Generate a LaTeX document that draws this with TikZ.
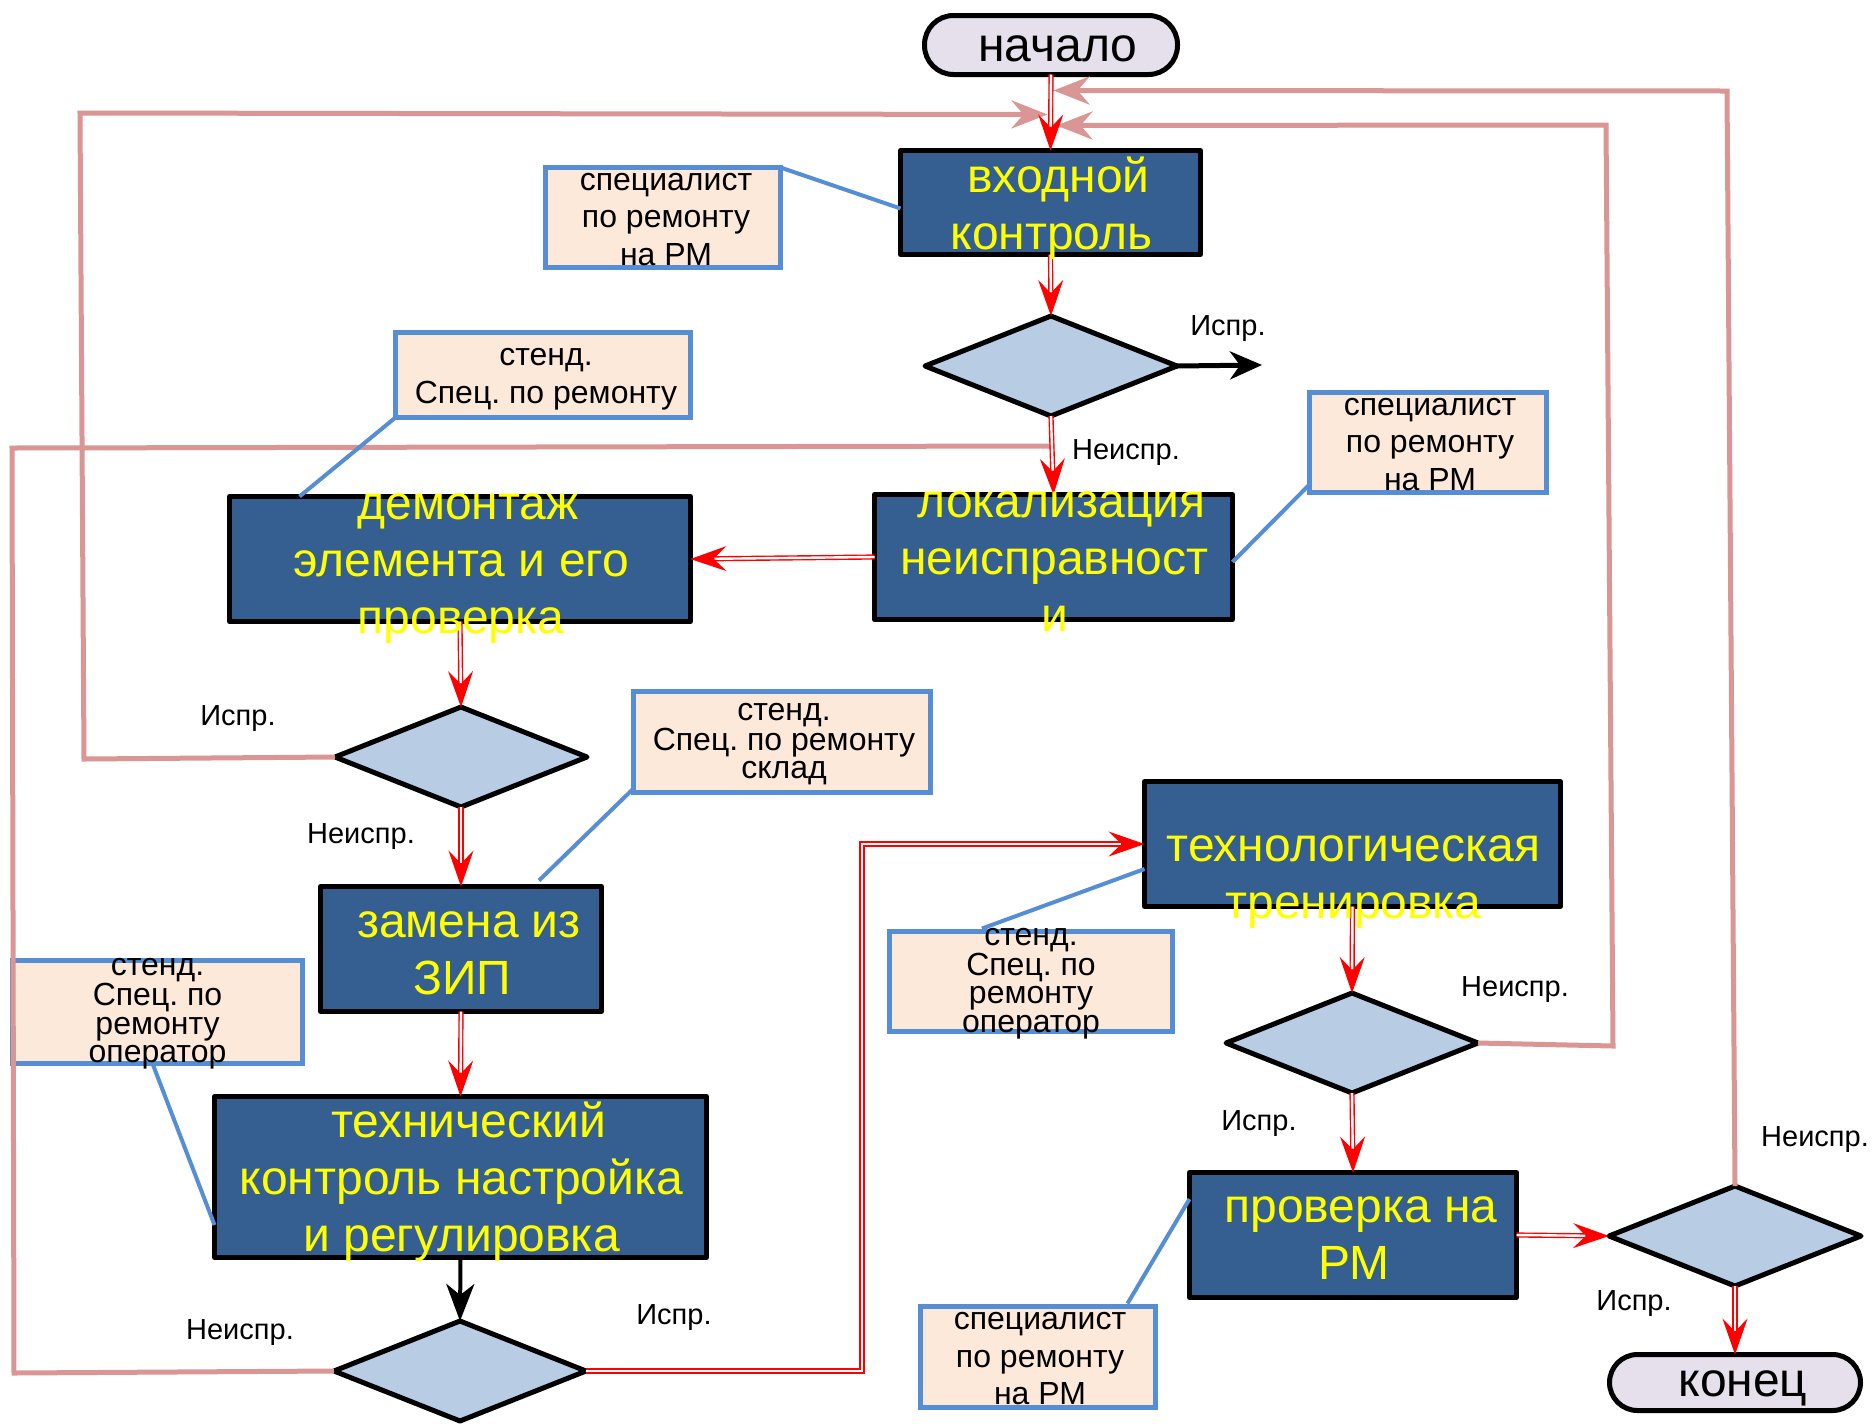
\documentclass[tikz,border=0pt]{standalone}
\usepackage{fontspec}
\setmainfont{Liberation Sans}
\usetikzlibrary{arrows.meta,shapes.geometric,calc}
\definecolor{boxblue}{RGB}{54,95,145}
\definecolor{diafill}{RGB}{184,204,228}
\definecolor{notefill}{RGB}{253,233,217}
\definecolor{noteborder}{RGB}{85,142,213}
\definecolor{termfill}{RGB}{229,224,236}
\definecolor{pinkcol}{RGB}{217,150,148}
\definecolor{textyellow}{RGB}{255,255,0}
\newcommand{\redarr}[1]{\draw[redtipline] #1; \draw[redline] #1;}
\newcommand{\fl}{\hspace*{14pt}}
\frenchspacing
\begin{document}
\begin{tikzpicture}[x=1pt,y=-1pt,
  mainbox/.style={rectangle, draw=black, line width=5pt, fill=boxblue, inner sep=0pt, outer sep=0pt, line join=round},
  maintext/.style={text=textyellow, font=\fontsize{48}{57}\selectfont, align=center, inner sep=0pt},
  decision/.style={diamond, draw=black, line width=5pt, fill=diafill, inner sep=0pt, outer sep=0pt, line join=round, minimum width=252pt, minimum height=100pt},
  term/.style={rectangle, rounded corners=29pt, draw=black, line width=5pt, fill=termfill, inner sep=0pt, outer sep=0pt},
  termtext/.style={text=black, font=\fontsize{48}{57}\selectfont, inner sep=0pt},
  note/.style={rectangle, draw=noteborder, line width=4.5pt, fill=notefill, inner sep=0pt, outer sep=0pt},
  notetext/.style={text=black, font=\fontsize{32}{37.5}\selectfont, align=center, inner sep=0pt},
  notetextt/.style={text=black, font=\fontsize{32}{28.5}\selectfont, align=center, inner sep=0pt},
  lbl/.style={text=black, font=\fontsize{29}{34}\selectfont, inner sep=0pt},
  blueline/.style={draw=noteborder, line width=4pt},
  pinkl/.style={draw=pinkcol, line width=5pt, -{Stealth[length=36pt, width=28pt, inset=12pt]}},
  pinkn/.style={draw=pinkcol, line width=5pt},
  redtipline/.style={draw=red, line width=1pt, -{Stealth[length=36pt, width=25pt, inset=13pt]}},
  redline/.style={draw=red, line width=1.4pt, double=white, double distance=2.4pt, shorten >=24pt},
  blackarr/.style={draw=black, line width=5pt, -{Stealth[length=32pt, width=28pt, inset=10pt]}}
]
\useasboundingbox[fill=white] (0,0) rectangle (1874,1425);

% terminators
\node[term, minimum width=253pt, minimum height=59pt] (st) at (1051,45) {};
\node[termtext] at ($(st.center)+(7,4)$) {начало};
\node[term, rounded corners=28pt, minimum width=251pt, minimum height=56pt] (en) at (1735,1382.5) {};
\node[termtext] at ($(en.center)+(8,6)$) {конец};

% process boxes
\node[mainbox, minimum width=300pt, minimum height=104pt] (vk) at (1050.5,202.5) {};
\node[mainbox, minimum width=358pt, minimum height=125pt] (lok) at (1053.5,557) {};
\node[mainbox, minimum width=461pt, minimum height=125pt] (dem) at (460,559) {};
\node[mainbox, minimum width=281pt, minimum height=125pt] (zam) at (461,949) {};
\node[mainbox, minimum width=492pt, minimum height=161pt] (teh) at (460.5,1177) {};
\node[mainbox, minimum width=416pt, minimum height=125pt] (trn) at (1352.5,844) {};
\node[mainbox, minimum width=327pt, minimum height=125pt] (prv) at (1353,1235) {};

% decisions
\node[decision] (d1) at (1051,366) {};
\node[decision] (d2) at (461,757) {};
\node[decision] (d3) at (460,1371) {};
\node[decision] (d4) at (1352,1043) {};
\node[decision] (d5) at (1735,1236) {};

% notes
\node[note, minimum width=235pt, minimum height=100pt] (nA) at (663,217.5) {};
\node[note, minimum width=295pt, minimum height=85pt] (nB) at (543,375) {};
\node[note, minimum width=297pt, minimum height=101pt] (nC) at (782,742) {};
\node[note, minimum width=290pt, minimum height=103pt] (nD) at (157.5,1012) {};
\node[note, minimum width=283pt, minimum height=100pt] (nE) at (1031,981.5) {};
\node[note, minimum width=237pt, minimum height=100pt] (nF) at (1428,442.5) {};
\node[note, minimum width=235pt, minimum height=101pt] (nG) at (1038,1357) {};

% pink feedback lines
\draw[pinkn] (d3.west) -- (14,1373) -- (12,448) -- ($(d1.south)+(0,30)$);
\draw[pinkl] (d2.west) -- (84,759) -- (80,113) -- ($(vk.north)+(-3,-36)$);
\draw[pinkl] (d4.east) -- (1613,1046) -- (1606,125) -- ($(vk.north)+(6,-25)$);
\draw[pinkl] (d5.north) -- (1727,91) -- ($(vk.north)+(3,-60)$);

% red double arrows
\redarr{(st.south) -- (vk.north)}
\redarr{(vk.south) -- (d1.north)}
\redarr{(d1.south) -- (lok.north)}
\redarr{(lok.west) -- (dem.east)}
\redarr{(dem.south) -- (d2.north)}
\redarr{(d2.south) -- (zam.north)}
\redarr{(zam.south) -- (teh.north)}
\redarr{(d3.east) -- ++(276,0) |- (trn.west)}
\redarr{(trn.south) -- (d4.north)}
\redarr{(d4.south) -- (prv.north)}
\redarr{(prv.east) -- (d5.west)}
\redarr{(d5.south) -- (en.north)}

% black arrows
\coordinate (ex1) at (1262,365);
\draw[blackarr] (d1.east) -- (ex1);
\draw[blackarr, line width=4pt, -{Stealth[length=37pt, width=28pt, inset=11pt]}] (teh.south) -- (d3.north);

% blue note connectors
\draw[blueline] (nA.north east) -- ($(vk.west)+(0,6)$);
\draw[blueline] (nB.south west) -- ($(dem.north west)+(70,0)$);
\draw[blueline] ($(nF.south west)+(0,-8)$) -- ($(lok.east)+(0,5)$);
\draw[blueline] ($(nC.south west)+(0,-4)$) -- ($(zam.north)+(78,-6)$);
\draw[blueline] ($(nD.south)+(-5,0)$) -- ($(teh.west)+(0,48)$);
\draw[blueline] ($(nE.north)+(-49,-3)$) -- ($(trn.west)+(0,25)$);
\draw[blueline] ($(nG.north east)+(-28,-3)$) -- ($(prv.west)+(0,-36)$);

% main texts
\node[maintext] at ($(vk.center)+(1,6)$) {\fl входной\\контроль};
\node[maintext] at ($(lok.center)+(1,5)$) {\fl локализация\\неисправност\\и};
\node[maintext] at ($(dem.center)+(1,10)$) {\fl демонтаж\\элемента и его\\проверка};
\node[maintext] at ($(zam.center)+(1,4)$) {\fl замена из\\ЗИП};
\node[maintext] at ($(teh.center)+(1,5)$) {\fl технический\\контроль настройка\\и регулировка};
\node[maintext] at ($(trn.center)+(1,38)$) {технологическая\\тренировка};
\node[maintext] at ($(prv.center)+(1,3)$) {\fl проверка на\\РМ};

% note texts
\node[notetext] at ($(nA.center)+(3,2)$) {специалист\\по ремонту\\на РМ};
\node[notetext] at ($(nB.center)+(3,4)$) {стенд.\\Спец. по ремонту};
\node[notetextt] at ($(nC.center)+(2,2)$) {стенд.\\Спец. по ремонту\\склад};
\node[notetextt] at ($(nD.center)+(0,2)$) {стенд.\\Спец. по\\ремонту\\оператор};
\node[notetextt] at ($(nE.center)+(0,2)$) {стенд.\\Спец. по\\ремонту\\оператор};
\node[notetext] at ($(nF.center)+(2,2)$) {специалист\\по ремонту\\на РМ};
\node[notetext] at ($(nG.center)+(2,2)$) {специалист\\по ремонту\\на РМ};

% labels
\node[lbl] (l1) at (1228,329) {Испр.};
\node[lbl] (l2) at (1126,453) {Неиспр.};
\node[lbl] (l3) at (238,719) {Испр.};
\node[lbl] (l4) at (361,837) {Неиспр.};
\node[lbl] (l5) at (240,1333) {Неиспр.};
\node[lbl] (l6) at (674,1318) {Испр.};
\node[lbl] (l7) at (1515,990) {Неиспр.};
\node[lbl] (l8) at (1259,1124) {Испр.};
\node[lbl] (l9) at (1815,1140) {Неиспр.};
\node[lbl] (l10) at (1634,1304) {Испр.};
\end{tikzpicture}
\end{document}
